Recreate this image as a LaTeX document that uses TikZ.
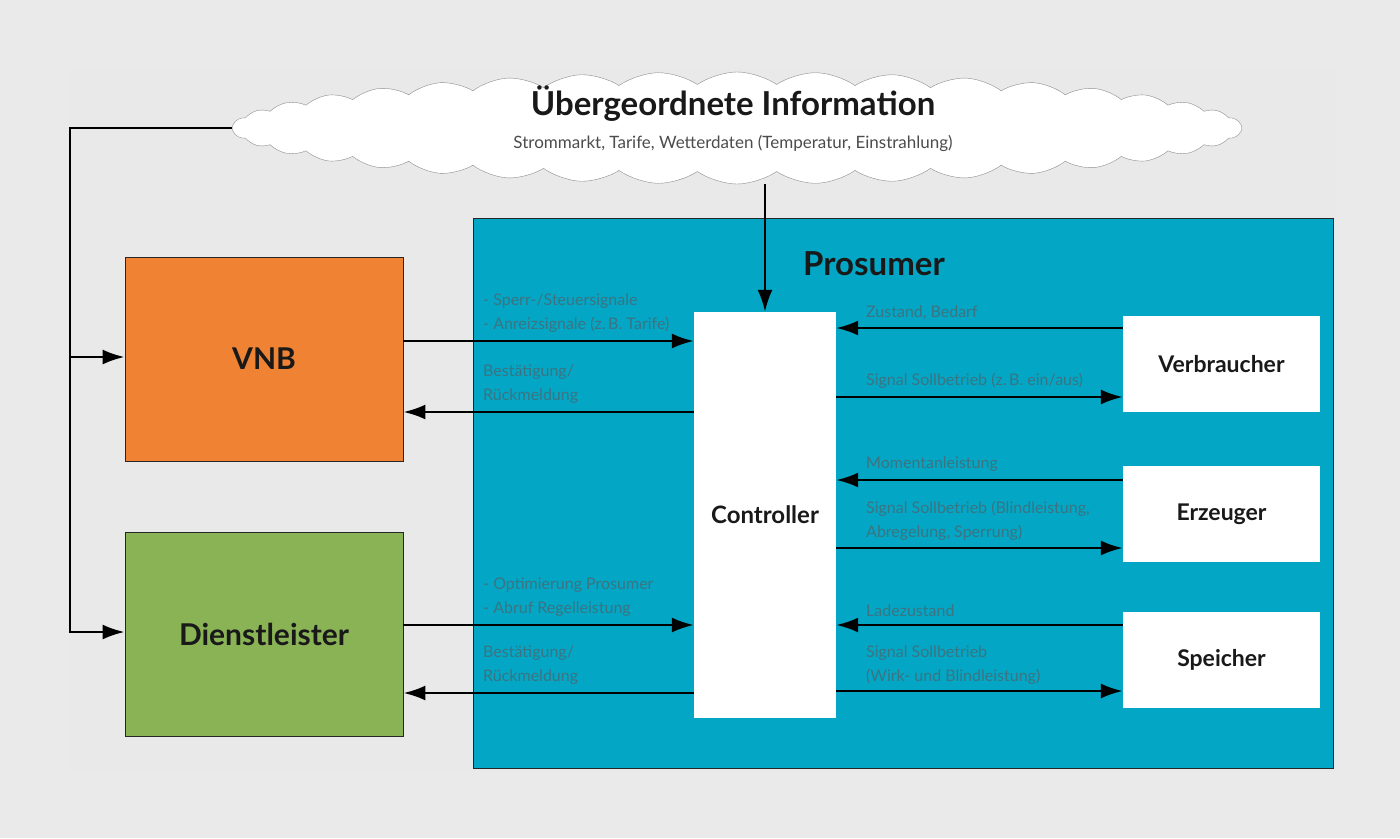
\documentclass[tikz,border=0pt]{standalone}
\usepackage{fontspec}
\setmainfont{Lato}
\usepackage{xcolor}
\usetikzlibrary{arrows.meta, shapes.symbols, positioning}
\definecolor{bgray}{HTML}{EAEAEA}
\definecolor{pteal}{HTML}{03A6C4}
\definecolor{vorange}{HTML}{F08234}
\definecolor{dgreen}{HTML}{8AB356}
\definecolor{lbltxt}{HTML}{3B7482}
\tikzset{
  box/.style={draw=black!85, line width=0.8pt, minimum width=278pt, minimum height=204pt, font=\fontsize{30}{34}\selectfont\bfseries},
  wbox/.style={fill=white, minimum width=197pt, minimum height=96pt, font=\fontsize{23}{26}\selectfont\bfseries},
  arr/.style={line width=2.5pt, -{Latex[length=22pt,width=15pt]}},
  lbl/.style={anchor=south west, inner sep=0pt, align=left, text=lbltxt, font=\fontsize{16}{24}\selectfont},
}
\begin{document}
\begin{tikzpicture}[x=1pt, y=-1pt, text=black!90]
  \fill[bgray] (0,0) rectangle (1400,838);
  \useasboundingbox (0,0) rectangle (1400,838);
  \fill[black!1!bgray!94!white] (68,68) rectangle (1336,772);
  % cloud
  \node[cloud, cloud puffs=40, cloud puff arc=70, aspect=9, draw=black!45, fill=white,
        minimum width=1010pt, minimum height=112pt, inner sep=0pt] (info) at (737,128) {};
  \node[font=\fontsize{33}{36}\selectfont\bfseries] (infotitle) at (733,104) {Übergeordnete Information};
  \node[font=\fontsize{17}{20}\selectfont, text=black!70] (infosub) at (733,143) {Strommarkt, Tarife, Wetterdaten (Temperatur, Einstrahlung)};
  % prosumer
  \node[draw=black!85, line width=0.8pt, fill=pteal, minimum width=860pt, minimum height=550pt] (pros) at (903,493) {};
  \node[font=\fontsize{33}{36}\selectfont\bfseries] (prostitle) at (874,264) {Prosumer};
  \node[fill=white, minimum width=142pt, minimum height=406pt, font=\fontsize{24}{28}\selectfont\bfseries] (ctrl) at (765,515) {Controller};
  \node[wbox] (verb) at (1221.5,364) {Verbraucher};
  \node[wbox] (erz) at (1221.5,514) {Erzeuger};
  \node[wbox] (spei) at (1221.5,660) {Speicher};
  % left side
  \node[box, fill=vorange] (vnb) at (264,359) {VNB};
  \node[box, fill=dgreen] (dl) at (264,634) {Dienstleister};
  \coordinate (bus) at (70,632);
  \draw[arr] (info.west) -| (bus) -- (bus -| dl.west);
  \draw[arr] (bus |- 0,357) -- (vnb.west |- 0,357);
  \draw[arr] (info.south -| ctrl.north) -- (ctrl.north);
  % VNB <-> controller
  \draw[arr] ([yshift=18pt]vnb.east) -- ([yshift=18pt]vnb.east -| ctrl.west);
  \draw[arr] ([yshift=-53pt]vnb.east -| ctrl.west) -- ([yshift=-53pt]vnb.east);
  \node[lbl] (lvnbin) at (483,333) {- Sperr-/Steuersignale\\- Anreizsignale (z.\,B. Tarife)};
  \node[lbl] (lvnbout) at (483,404) {Bestätigung/\\Rückmeldung};
  % Dienstleister <-> controller
  \draw[arr] ([yshift=9pt]dl.east) -- ([yshift=9pt]dl.east -| ctrl.west);
  \draw[arr] ([yshift=-59pt]dl.east -| ctrl.west) -- ([yshift=-59pt]dl.east);
  \node[lbl] (ldlin) at (483,617) {- Optimierung Prosumer\\- Abruf Regelleistung};
  \node[lbl] (ldlout) at (483,685) {Bestätigung/\\Rückmeldung};
  % right side
  \draw[arr] ([yshift=36pt]verb.west) -- ([yshift=36pt]verb.west -| ctrl.east);
  \draw[arr] ([yshift=-33pt]verb.west -| ctrl.east) -- ([yshift=-33pt]verb.west);
  \node[lbl] (lverbin) at (866,320) {Zustand, Bedarf};
  \node[lbl] (lverbout) at (866,389) {Signal Sollbetrieb (z.\,B. ein/aus)};
  \draw[arr] ([yshift=34pt]erz.west) -- ([yshift=34pt]erz.west -| ctrl.east);
  \draw[arr] ([yshift=-34pt]erz.west -| ctrl.east) -- ([yshift=-34pt]erz.west);
  \node[lbl] (lerzin) at (866,472) {Momentanleistung};
  \node[lbl] (lerzout) at (866,541) {Signal Sollbetrieb (Blindleistung,\\Abregelung, Sperrung)};
  \draw[arr] ([yshift=35pt]spei.west) -- ([yshift=35pt]spei.west -| ctrl.east);
  \draw[arr] ([yshift=-31pt]spei.west -| ctrl.east) -- ([yshift=-31pt]spei.west);
  \node[lbl] (lspin) at (866,617) {Ladezustand};
  \node[lbl] (lspout) at (866,685) {Signal Sollbetrieb\\(Wirk- und Blindleistung)};
\end{tikzpicture}
\end{document}
